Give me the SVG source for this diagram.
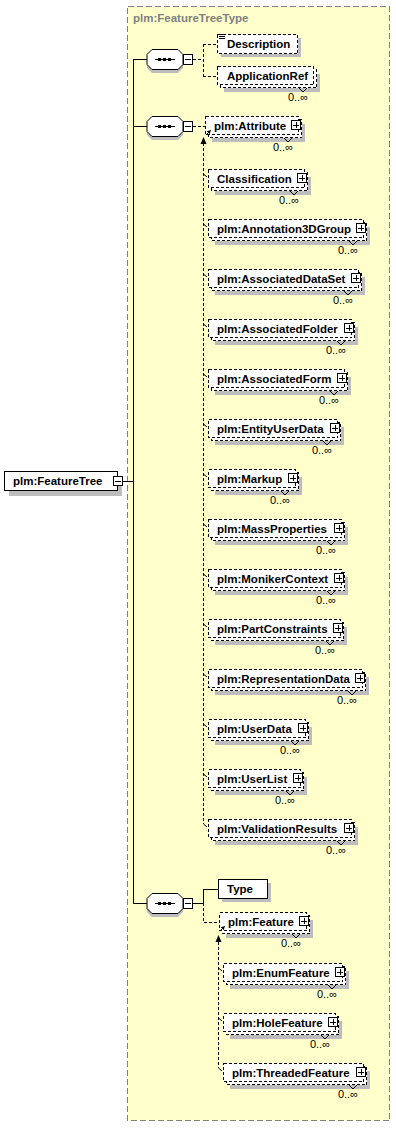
<svg xmlns="http://www.w3.org/2000/svg" width="396" height="1128" viewBox="0 0 396 1128">
<style>
.bg{fill:#ffffcc;stroke:#808080;stroke-dasharray:6,3}
.sh{fill:#bdbdbd;stroke:none}
.bx{fill:#ffffff;stroke:#000000;stroke-width:1}
.d{stroke-dasharray:3,2}
.t{font-family:"Liberation Sans",Arial,sans-serif;font-weight:bold;font-size:11.5px;fill:#000000}
.tt{font-family:"Liberation Sans",Arial,sans-serif;font-weight:bold;font-size:11.5px;fill:#808080}
.o{font-family:"Liberation Sans",Arial,sans-serif;font-size:11px;fill:#000000;text-anchor:end}
.ln{fill:none;stroke:#000000;stroke-width:1}
.dl{fill:none;stroke:#000000;stroke-width:1;stroke-dasharray:3,2}
.ah{fill:#000000;stroke:none}
rect{shape-rendering:crispEdges}
</style>
<defs>
<marker id="tip" viewBox="0 0 6 6" refX="5" refY="3" markerWidth="4" markerHeight="4" orient="auto" markerUnits="userSpaceOnUse"><path d="M0,0 L6,3 L0,6 z" fill="#000"/></marker>
<g id="oct"><path d="M152,-10 H178 L183,-5 V5 L178,10 H152 L147,5 V-5 Z"/></g>
</defs>

<rect class="bg" x="127.5" y="6.5" width="262" height="1114"/>
<text class="tt" x="133" y="22">plm:FeatureTreeType</text>

<g id="connectors">
<path class="ln" d="M123,481.5 H133.5 M133.5,59 V903 M133,59.5 H147 M133,126.5 H147 M133,903.5 H147"/>
<path class="dl" d="M193,59.5 H203.5 M203.5,44 V76 M203,44.5 H217 M203,76.5 H217"/>
<path class="dl" d="M193,126.5 H205"/>
<path class="ln" d="M193,903.5 H203.5 M203.5,889 V903 M203,889.5 H218"/>
<path class="dl" d="M203.5,903 V922.5 H219"/>
<path class="dl" d="M203.5,143 V824"/>
<polygon class="ah" points="203.5,137 200.5,144 206.5,144"/>
<path class="ln" d="M203.5,174 L207,177 M203.5,224 L207,227 M203.5,274 L207,277 M203.5,324 L207,327 M203.5,374 L207,377 M203.5,424 L207,427 M203.5,474 L207,477 M203.5,524 L207,527 M203.5,574 L207,577 M203.5,624 L207,627 M203.5,674 L207,677 M203.5,724 L207,727 M203.5,774 L207,777 M203.5,824 L207,827"/>
<path class="dl" d="M218.5,942 V1068"/>
<polygon class="ah" points="218.5,935 215.5,942 221.5,942"/>
<path class="ln" d="M218.5,968 L222,971 M218.5,1018 L222,1021 M218.5,1068 L222,1071"/>
</g>

<g id="n-FeatureTree">
<rect class="sh" x="9" y="476" width="113" height="20"/>
<rect class="bx" x="4.5" y="471.5" width="113" height="19"/>
<text class="t" x="13" y="485">plm:FeatureTree</text>
<rect class="bx" x="113.5" y="476.5" width="9" height="9"/>
<path class="ln" d="M115,481.5 H121"/>
</g>

<g id="seq1">
<use href="#oct" y="63" class="sh"/>
<use href="#oct" y="59.5" class="bx"/>
<path class="ln" d="M155,59.5 H175"/>
<rect x="158" y="58" width="3" height="3" fill="#000"/><rect x="163" y="58" width="3" height="3" fill="#000"/><rect x="168" y="58" width="3" height="3" fill="#000"/>
<rect class="bx" x="183.5" y="54.5" width="9" height="10"/>
<path class="ln" d="M185,59.5 H191"/>
</g>

<g id="seq2">
<use href="#oct" y="130" class="sh"/>
<use href="#oct" y="126.5" class="bx"/>
<path class="ln" d="M155,126.5 H175"/>
<rect x="158" y="125" width="3" height="3" fill="#000"/><rect x="163" y="125" width="3" height="3" fill="#000"/><rect x="168" y="125" width="3" height="3" fill="#000"/>
<rect class="bx" x="183.5" y="121.5" width="9" height="10"/>
<path class="ln" d="M185,126.5 H191"/>
</g>

<g id="seq3">
<use href="#oct" y="907" class="sh"/>
<use href="#oct" y="903.5" class="bx"/>
<path class="ln" d="M155,903.5 H175"/>
<rect x="158" y="902" width="3" height="3" fill="#000"/><rect x="163" y="902" width="3" height="3" fill="#000"/><rect x="168" y="902" width="3" height="3" fill="#000"/>
<rect class="bx" x="183.5" y="898.5" width="9" height="10"/>
<path class="ln" d="M185,903.5 H191"/>
</g>

<g id="n-Description">
<rect class="sh" x="221" y="38" width="80" height="19"/>
<rect class="bx d" x="217.5" y="34.5" width="80" height="19"/>
<path class="ln" d="M219,34.5 H224 M219,36.5 H225 M219,38.5 H225"/>
<text class="t" x="227" y="48">Description</text>
</g>

<g id="n-ApplicationRef">
<rect class="sh" x="224" y="74" width="96" height="18"/>
<rect class="bx d" x="220.5" y="69.5" width="96" height="18"/>
<rect class="bx d" x="217.5" y="66.5" width="96" height="18"/>
<text class="t" x="227" y="80">ApplicationRef</text>
<polyline class="ln" points="299,88 303,92 307,88"/>
<text class="o" x="308" y="101">0..∞</text>
</g>

<g id="n-Attribute">
<rect class="sh" x="212" y="124" width="93" height="18"/>
<rect class="bx d" x="208.5" y="119.5" width="93" height="18"/>
<rect class="bx d" x="205.5" y="116.5" width="93" height="18"/>
<text class="t" x="214" y="130">plm:Attribute</text>
<rect class="bx" x="291.5" y="120.5" width="9" height="9"/>
<path class="ln" d="M293,125.5 H299 M296.5,122 V128"/>
<polyline class="ln" points="284,138 288,142 292,138"/>
<text class="o" x="293" y="151">0..∞</text>
<line class="ln" x1="206" y1="135" x2="210.5" y2="130.5" marker-end="url(#tip)"/>
</g>

<g id="n-Classification">
<rect class="sh" x="215" y="177" width="96" height="18"/>
<rect class="bx d" x="211.5" y="172.5" width="96" height="18"/>
<rect class="bx d" x="208.5" y="169.5" width="96" height="18"/>
<text class="t" x="217" y="183">Classification</text>
<rect class="bx" x="297.5" y="173.5" width="9" height="9"/>
<path class="ln" d="M299,178.5 H305 M302.5,175 V181"/>
<polyline class="ln" points="290,191 294,195 298,191"/>
<text class="o" x="299" y="204">0..∞</text>
</g>

<g id="n-Annotation3DGroup">
<rect class="sh" x="215" y="227" width="155" height="18"/>
<rect class="bx d" x="211.5" y="222.5" width="155" height="18"/>
<rect class="bx d" x="208.5" y="219.5" width="155" height="18"/>
<text class="t" x="217" y="233">plm:Annotation3DGroup</text>
<rect class="bx" x="356.5" y="223.5" width="9" height="9"/>
<path class="ln" d="M358,228.5 H364 M361.5,225 V231"/>
<polyline class="ln" points="349,241 353,245 357,241"/>
<text class="o" x="358" y="254">0..∞</text>
</g>

<g id="n-AssociatedDataSet">
<rect class="sh" x="215" y="277" width="150" height="18"/>
<rect class="bx d" x="211.5" y="272.5" width="150" height="18"/>
<rect class="bx d" x="208.5" y="269.5" width="150" height="18"/>
<text class="t" x="217" y="283">plm:AssociatedDataSet</text>
<rect class="bx" x="351.5" y="273.5" width="9" height="9"/>
<path class="ln" d="M353,278.5 H359 M356.5,275 V281"/>
<polyline class="ln" points="344,291 348,295 352,291"/>
<text class="o" x="353" y="304">0..∞</text>
</g>

<g id="n-AssociatedFolder">
<rect class="sh" x="215" y="327" width="143" height="18"/>
<rect class="bx d" x="211.5" y="322.5" width="143" height="18"/>
<rect class="bx d" x="208.5" y="319.5" width="143" height="18"/>
<text class="t" x="217" y="333">plm:AssociatedFolder</text>
<rect class="bx" x="344.5" y="323.5" width="9" height="9"/>
<path class="ln" d="M346,328.5 H352 M349.5,325 V331"/>
<polyline class="ln" points="337,341 341,345 345,341"/>
<text class="o" x="346" y="354">0..∞</text>
</g>

<g id="n-AssociatedForm">
<rect class="sh" x="215" y="377" width="136" height="18"/>
<rect class="bx d" x="211.5" y="372.5" width="136" height="18"/>
<rect class="bx d" x="208.5" y="369.5" width="136" height="18"/>
<text class="t" x="217" y="383">plm:AssociatedForm</text>
<rect class="bx" x="337.5" y="373.5" width="9" height="9"/>
<path class="ln" d="M339,378.5 H345 M342.5,375 V381"/>
<polyline class="ln" points="330,391 334,395 338,391"/>
<text class="o" x="339" y="404">0..∞</text>
</g>

<g id="n-EntityUserData">
<rect class="sh" x="215" y="427" width="129" height="18"/>
<rect class="bx d" x="211.5" y="422.5" width="129" height="18"/>
<rect class="bx d" x="208.5" y="419.5" width="129" height="18"/>
<text class="t" x="217" y="433">plm:EntityUserData</text>
<rect class="bx" x="330.5" y="423.5" width="9" height="9"/>
<path class="ln" d="M332,428.5 H338 M335.5,425 V431"/>
<polyline class="ln" points="323,441 327,445 331,441"/>
<text class="o" x="332" y="454">0..∞</text>
</g>

<g id="n-Markup">
<rect class="sh" x="215" y="477" width="87" height="18"/>
<rect class="bx d" x="211.5" y="472.5" width="87" height="18"/>
<rect class="bx d" x="208.5" y="469.5" width="87" height="18"/>
<text class="t" x="217" y="483">plm:Markup</text>
<rect class="bx" x="288.5" y="473.5" width="9" height="9"/>
<path class="ln" d="M290,478.5 H296 M293.5,475 V481"/>
<polyline class="ln" points="281,491 285,495 289,491"/>
<text class="o" x="290" y="504">0..∞</text>
</g>

<g id="n-MassProperties">
<rect class="sh" x="215" y="527" width="133" height="18"/>
<rect class="bx d" x="211.5" y="522.5" width="133" height="18"/>
<rect class="bx d" x="208.5" y="519.5" width="133" height="18"/>
<text class="t" x="217" y="533">plm:MassProperties</text>
<rect class="bx" x="334.5" y="523.5" width="9" height="9"/>
<path class="ln" d="M336,528.5 H342 M339.5,525 V531"/>
<polyline class="ln" points="327,541 331,545 335,541"/>
<text class="o" x="336" y="554">0..∞</text>
</g>

<g id="n-MonikerContext">
<rect class="sh" x="215" y="577" width="133" height="18"/>
<rect class="bx d" x="211.5" y="572.5" width="133" height="18"/>
<rect class="bx d" x="208.5" y="569.5" width="133" height="18"/>
<text class="t" x="217" y="583">plm:MonikerContext</text>
<rect class="bx" x="334.5" y="573.5" width="9" height="9"/>
<path class="ln" d="M336,578.5 H342 M339.5,575 V581"/>
<polyline class="ln" points="327,591 331,595 335,591"/>
<text class="o" x="336" y="604">0..∞</text>
</g>

<g id="n-PartConstraints">
<rect class="sh" x="215" y="627" width="132" height="18"/>
<rect class="bx d" x="211.5" y="622.5" width="132" height="18"/>
<rect class="bx d" x="208.5" y="619.5" width="132" height="18"/>
<text class="t" x="217" y="633">plm:PartConstraints</text>
<rect class="bx" x="333.5" y="623.5" width="9" height="9"/>
<path class="ln" d="M335,628.5 H341 M338.5,625 V631"/>
<polyline class="ln" points="326,641 330,645 334,641"/>
<text class="o" x="335" y="654">0..∞</text>
</g>

<g id="n-RepresentationData">
<rect class="sh" x="215" y="677" width="154" height="18"/>
<rect class="bx d" x="211.5" y="672.5" width="154" height="18"/>
<rect class="bx d" x="208.5" y="669.5" width="154" height="18"/>
<text class="t" x="217" y="683">plm:RepresentationData</text>
<rect class="bx" x="355.5" y="673.5" width="9" height="9"/>
<path class="ln" d="M357,678.5 H363 M360.5,675 V681"/>
<polyline class="ln" points="348,691 352,695 356,691"/>
<text class="o" x="357" y="704">0..∞</text>
</g>

<g id="n-UserData">
<rect class="sh" x="215" y="727" width="97" height="18"/>
<rect class="bx d" x="211.5" y="722.5" width="97" height="18"/>
<rect class="bx d" x="208.5" y="719.5" width="97" height="18"/>
<text class="t" x="217" y="733">plm:UserData</text>
<rect class="bx" x="298.5" y="723.5" width="9" height="9"/>
<path class="ln" d="M300,728.5 H306 M303.5,725 V731"/>
<polyline class="ln" points="291,741 295,745 299,741"/>
<text class="o" x="300" y="754">0..∞</text>
</g>

<g id="n-UserList">
<rect class="sh" x="215" y="777" width="92" height="18"/>
<rect class="bx d" x="211.5" y="772.5" width="92" height="18"/>
<rect class="bx d" x="208.5" y="769.5" width="92" height="18"/>
<text class="t" x="217" y="783">plm:UserList</text>
<rect class="bx" x="293.5" y="773.5" width="9" height="9"/>
<path class="ln" d="M295,778.5 H301 M298.5,775 V781"/>
<polyline class="ln" points="286,791 290,795 294,791"/>
<text class="o" x="295" y="804">0..∞</text>
</g>

<g id="n-ValidationResults">
<rect class="sh" x="215" y="827" width="143" height="18"/>
<rect class="bx d" x="211.5" y="822.5" width="143" height="18"/>
<rect class="bx d" x="208.5" y="819.5" width="143" height="18"/>
<text class="t" x="217" y="833">plm:ValidationResults</text>
<rect class="bx" x="344.5" y="823.5" width="9" height="9"/>
<path class="ln" d="M346,828.5 H352 M349.5,825 V831"/>
<polyline class="ln" points="337,841 341,845 345,841"/>
<text class="o" x="346" y="854">0..∞</text>
</g>

<g id="n-Type">
<rect class="sh" x="222" y="883" width="49" height="19"/>
<rect class="bx" x="218.5" y="879.5" width="49" height="19"/>
<text class="t" x="227" y="893">Type</text>
</g>

<g id="n-Feature">
<rect class="sh" x="226" y="920" width="87" height="18"/>
<rect class="bx d" x="222.5" y="915.5" width="87" height="18"/>
<rect class="bx d" x="219.5" y="912.5" width="87" height="18"/>
<text class="t" x="228" y="926">plm:Feature</text>
<rect class="bx" x="299.5" y="916.5" width="9" height="9"/>
<path class="ln" d="M301,921.5 H307 M304.5,918 V924"/>
<polyline class="ln" points="292,934 296,938 300,934"/>
<text class="o" x="301" y="947">0..∞</text>
<line class="ln" x1="220" y1="931" x2="224.5" y2="926.5" marker-end="url(#tip)"/>
</g>

<g id="n-EnumFeature">
<rect class="sh" x="230" y="971" width="119" height="18"/>
<rect class="bx d" x="226.5" y="966.5" width="119" height="18"/>
<rect class="bx d" x="223.5" y="963.5" width="119" height="18"/>
<text class="t" x="232" y="977">plm:EnumFeature</text>
<rect class="bx" x="335.5" y="967.5" width="9" height="9"/>
<path class="ln" d="M337,972.5 H343 M340.5,969 V975"/>
<polyline class="ln" points="328,985 332,989 336,985"/>
<text class="o" x="337" y="998">0..∞</text>
</g>

<g id="n-HoleFeature">
<rect class="sh" x="230" y="1021" width="112" height="18"/>
<rect class="bx d" x="226.5" y="1016.5" width="112" height="18"/>
<rect class="bx d" x="223.5" y="1013.5" width="112" height="18"/>
<text class="t" x="232" y="1027">plm:HoleFeature</text>
<rect class="bx" x="328.5" y="1017.5" width="9" height="9"/>
<path class="ln" d="M330,1022.5 H336 M333.5,1019 V1025"/>
<polyline class="ln" points="321,1035 325,1039 329,1035"/>
<text class="o" x="330" y="1048">0..∞</text>
</g>

<g id="n-ThreadedFeature">
<rect class="sh" x="230" y="1071" width="140" height="18"/>
<rect class="bx d" x="226.5" y="1066.5" width="140" height="18"/>
<rect class="bx d" x="223.5" y="1063.5" width="140" height="18"/>
<text class="t" x="232" y="1077">plm:ThreadedFeature</text>
<rect class="bx" x="356.5" y="1067.5" width="9" height="9"/>
<path class="ln" d="M358,1072.5 H364 M361.5,1069 V1075"/>
<polyline class="ln" points="349,1085 353,1089 357,1085"/>
<text class="o" x="358" y="1098">0..∞</text>
</g>
</svg>
